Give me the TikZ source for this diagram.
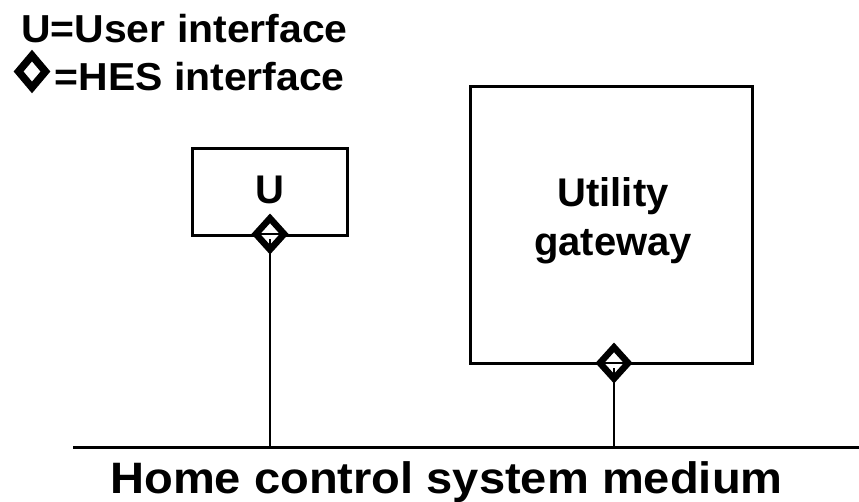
\documentclass[tikz,border=0pt]{standalone}
\usepackage{fontspec}
\setmainfont{Liberation Sans}
\usetikzlibrary{shapes.geometric}

\tikzset{
  box/.style={draw, line width=3pt, inner sep=0pt},
  boxtext/.style={inner sep=0pt, align=center,
                  font=\fontsize{40}{49}\selectfont\bfseries},
  hes/.style={draw, shape=diamond, line width=6.5pt, fill=white, inner sep=0pt,
              minimum width=31pt, minimum height=34pt},
  link/.style={line width=1.2pt},
  legend/.style={inner sep=0pt, xscale=1.05,
                 font=\fontsize{39}{48}\selectfont\bfseries},
}

\begin{document}
\begin{tikzpicture}[x=1pt, y=-1pt]
  \useasboundingbox (0,0) rectangle (859,501);

  % legend
  \node[legend, anchor=base east] (legU) at (348,42) {U=User interface};
  \node[legend, anchor=base east] (legH) at (345,90) {=HES interface};
  \node[hes, line width=7.5pt, minimum width=30pt, minimum height=35pt]
    (legD) at (32,71.5) {};

  % bus medium
  \coordinate (mL) at (73,447);
  \coordinate (mR) at (859,447);
  \draw[line width=3pt] (mL) -- (mR);
  \node[inner sep=0pt, anchor=base, xscale=1.07,
        font=\fontsize{44}{50}\selectfont\bfseries]
    (medium) at (446.5,493) {Home control system medium};

  % user interface device
  \node[box, minimum width=155pt, minimum height=87pt] (ubox) at (269.5,191.5) {};
  \node[boxtext, anchor=base] (ulabel) at (269.5,203) {U};
  % utility gateway (base anchor sits on the last line)
  \node[box, minimum width=282pt, minimum height=277pt] (gw) at (611,224.5) {};
  \node[boxtext, anchor=base] (gwlabel) at (613,255) {Utility\\gateway};

  % HES interfaces on the device boundaries
  \node[hes] (uif) at (270,234) {};
  \node[hes] (gif) at (614,363) {};
  \foreach \d in {uif,gif}{
    \draw[link] ([xshift=-11pt]\d.center) -- ([xshift=11pt]\d.center);
    \draw[link] ([yshift=-5pt]\d.center) -- (\d.center |- mL);
  }
\end{tikzpicture}
\end{document}
